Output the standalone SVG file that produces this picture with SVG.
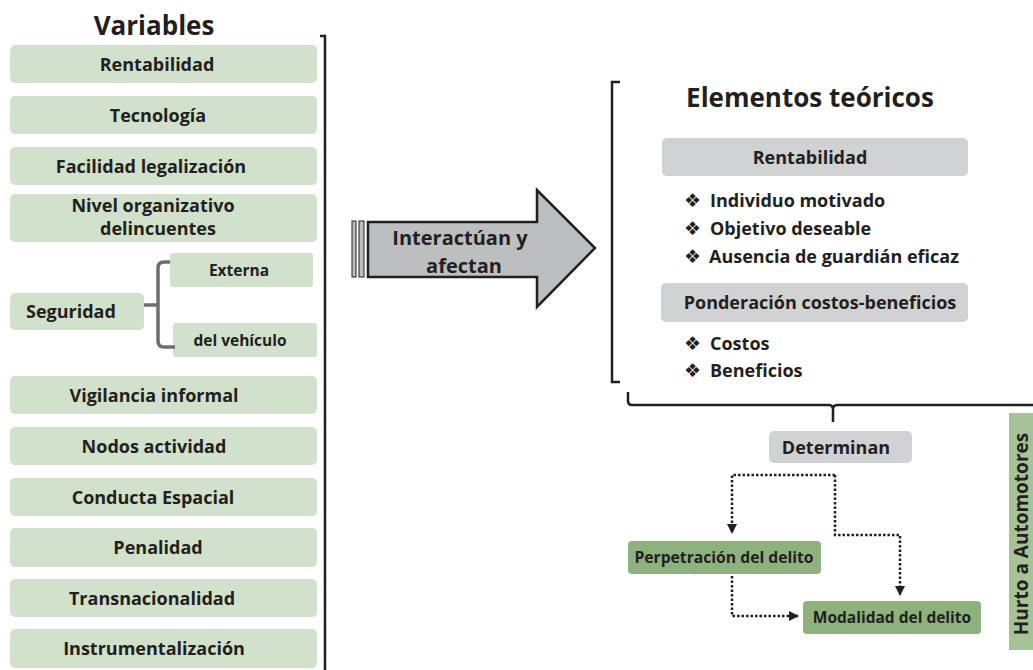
<svg xmlns="http://www.w3.org/2000/svg" width="1033" height="670" viewBox="0 0 1033 670">
<style>
text{font-family:"Open Sans","Noto Sans",sans-serif;font-weight:bold;fill:#231f20}
.lg{fill:#d2e1cb}
.gr{fill:#d1d2d4}
.dg{fill:#8db27d}
.t{font-size:18px;text-anchor:middle}
.b{font-size:18px}
.s{font-family:"DejaVu Sans",sans-serif;font-size:19px;font-weight:normal}
.dot{fill:none;stroke:#231f20;stroke-width:2.5;stroke-dasharray:2.5 2}
</style>
<defs>
<marker id="ah" viewBox="0 0 10 10" refX="9" refY="5" markerWidth="4" markerHeight="4" orient="auto" markerUnits="strokeWidth"><path d="M0,0L10,5L0,10z" fill="#231f20"/></marker>
</defs>
<rect width="1033" height="670" fill="#fff"/>
<text x="154" y="35" font-size="26" text-anchor="middle">Variables</text>
<path d="M320,36H325V670" fill="none" stroke="#231f20" stroke-width="2.5"/>
<g id="n-rent"><rect class="lg" x="10" y="45" width="307" height="38" rx="5"/><text class="t" x="157" y="71">Rentabilidad</text></g>
<g id="n-tec"><rect class="lg" x="10" y="96" width="307" height="38" rx="5"/><text class="t" x="158" y="122">Tecnología</text></g>
<g id="n-fac"><rect class="lg" x="10" y="147" width="307" height="38" rx="5"/><text class="t" x="151" y="173">Facilidad legalización</text></g>
<g id="n-niv"><rect class="lg" x="10" y="194" width="307" height="48" rx="5"/><text class="t" x="153" y="212">Nivel organizativo</text><text class="t" x="158" y="235">delincuentes</text></g>
<g id="n-seg"><rect class="lg" x="10" y="293" width="134" height="37" rx="5"/><text x="26" y="318" font-size="18">Seguridad</text></g>
<g id="n-ext"><rect class="lg" x="170" y="253" width="143" height="34" rx="3"/><text x="239" y="276" font-size="15.5" text-anchor="middle">Externa</text></g>
<g id="n-veh"><rect class="lg" x="173" y="323" width="144" height="34" rx="3"/><text x="240" y="346" font-size="15.5" text-anchor="middle">del vehículo</text></g>
<g id="n-vig"><rect class="lg" x="10" y="376" width="307" height="38" rx="5"/><text class="t" x="154" y="402">Vigilancia informal</text></g>
<g id="n-nod"><rect class="lg" x="10" y="427" width="307" height="38" rx="5"/><text class="t" x="154" y="453">Nodos actividad</text></g>
<g id="n-con"><rect class="lg" x="10" y="478" width="307" height="38" rx="5"/><text class="t" x="153" y="504">Conducta Espacial</text></g>
<g id="n-pen"><rect class="lg" x="10" y="528" width="307" height="39" rx="5"/><text class="t" x="158" y="554">Penalidad</text></g>
<g id="n-tra"><rect class="lg" x="10" y="579" width="307" height="38" rx="5"/><text class="t" x="152" y="605">Transnacionalidad</text></g>
<g id="n-ins"><rect class="lg" x="10" y="629" width="307" height="39" rx="5"/><text class="t" x="154" y="655">Instrumentalización</text></g>
<g id="n-arrow">
<rect x="352" y="221" width="4" height="56" fill="#bdbec0" stroke="#231f20" stroke-width="1"/>
<rect x="359" y="221" width="5" height="56" fill="#bdbec0" stroke="#231f20" stroke-width="1"/>
<path d="M368,222H537V190L595,248L537,307V277H368Z" fill="#bdbec0" stroke="#231f20" stroke-width="2.5" stroke-linejoin="miter"/>
<text x="460" y="245" font-size="20" text-anchor="middle">Interactúan y</text>
<text x="464" y="273" font-size="20" text-anchor="middle">afectan</text>
</g>
<path d="M620,82H612V382H620" fill="none" stroke="#231f20" stroke-width="2.5"/>
<g id="n-elem">
<text x="810" y="107" font-size="26" text-anchor="middle">Elementos teóricos</text>
<rect class="gr" x="662" y="138" width="306" height="38" rx="5"/><text class="t" x="810" y="164">Rentabilidad</text>
<text class="b" x="684" y="207"><tspan class="s">❖</tspan><tspan x="710">Individuo motivado</tspan></text>
<text class="b" x="684" y="235"><tspan class="s">❖</tspan><tspan x="710">Objetivo deseable</tspan></text>
<text class="b" x="684" y="263"><tspan class="s">❖</tspan><tspan x="709">Ausencia de guardián eficaz</tspan></text>
<rect class="gr" x="661" y="283" width="307" height="39" rx="5"/><text class="t" x="820" y="309">Ponderación costos-beneficios</text>
<text class="b" x="684" y="350"><tspan class="s">❖</tspan><tspan x="710">Costos</tspan></text>
<text class="b" x="684" y="377"><tspan class="s">❖</tspan><tspan x="710">Beneficios</tspan></text>
</g>
<path d="M628,392V401Q628,405 632,405H829Q833,405 833,410V422M833,410Q833,405 837,405H1033" fill="none" stroke="#231f20" stroke-width="2.5"/>
<g id="n-det"><rect class="gr" x="769" y="431" width="143" height="32" rx="5"/><text class="t" x="836" y="454">Determinan</text></g>
<g id="n-per"><rect class="dg" x="628" y="541" width="193" height="33" rx="4"/><text x="724" y="563" font-size="15.7" text-anchor="middle">Perpetración del delito</text></g>
<g id="n-mod"><rect class="dg" x="803" y="601" width="178" height="33" rx="4"/><text x="892" y="623" font-size="15.5" text-anchor="middle">Modalidad del delito</text></g>
<g id="n-hurto"><rect x="1009" y="413" width="24" height="237" fill="#a5c397"/><text transform="translate(1028,534) rotate(-90)" font-size="19" text-anchor="middle">Hurto a Automotores</text></g>
<g id="connectors">
<path class="dot" d="M835,475H732V533" marker-end="url(#ah)"/>
<path class="dot" d="M835,475V535H900V595" marker-end="url(#ah)"/>
<path class="dot" d="M732,576V616H798" marker-end="url(#ah)"/>
<path d="M144,305H158M170,262H164Q158,262 158,268V341Q158,347 164,347H175" fill="none" stroke="#6d6e71" stroke-width="3.5"/>
</g>
</svg>
